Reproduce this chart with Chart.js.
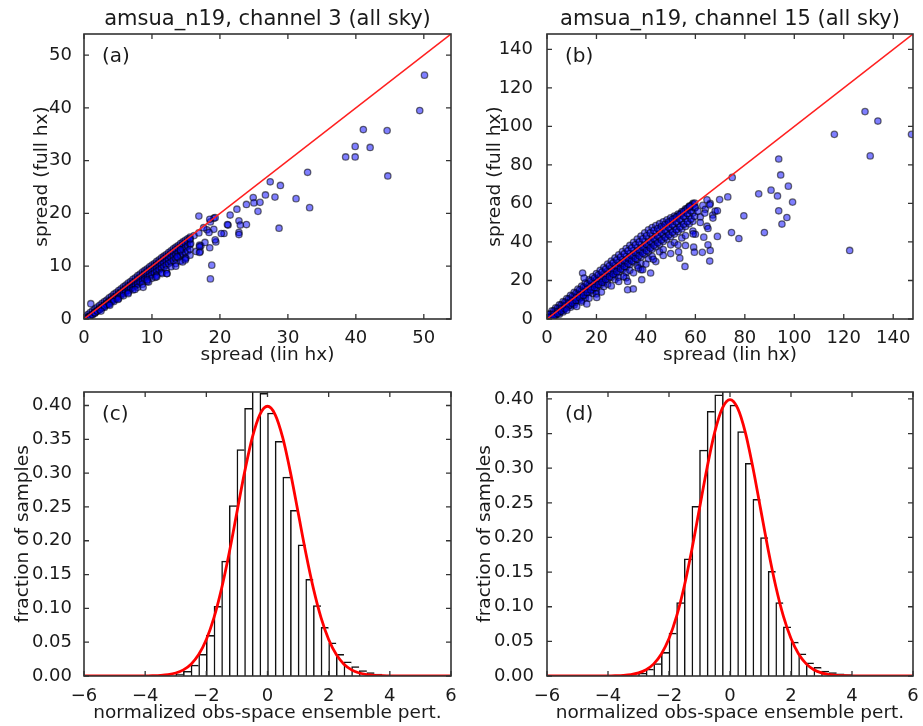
<!DOCTYPE html>
<html>
<head>
<meta charset="utf-8">
<script src="https://cdn.jsdelivr.net/npm/chart.js@4.4.1/dist/chart.umd.min.js"></script>
<style>
  body { margin: 0; background: #fff; width: 923px; height: 726px; position: relative; overflow: hidden; }
  canvas { position: absolute; }
</style>
</head>
<body>
<canvas id="chartA" width="460" height="372" style="left:0;top:0"></canvas>
<canvas id="chartB" width="463" height="372" style="left:460px;top:0"></canvas>
<canvas id="chartC" width="460" height="361" style="left:0;top:365px"></canvas>
<canvas id="chartD" width="463" height="361" style="left:460px;top:365px"></canvas>
<script>
// ---- data ----
const ticksA = [0, 10, 20, 30, 40, 50];
const ticksB = [0, 20, 40, 60, 80, 100, 120, 140];
const ticksHistX = [-6, -4, -2, 0, 2, 4, 6];
const ticksHistY = [0, 0.05, 0.1, 0.15, 0.2, 0.25, 0.3, 0.35, 0.4];

// 1:1 reference line ends
const diagA = [0, 54];
const diagB = [0, 148];

// channel 3: dense band near the 1:1 line (x = spread lin hx, rows = spread full hx)
const bandAx = [0.2, 0.55, 0.9, 1.25, 1.6, 1.95, 2.3, 2.65, 3.0, 3.35, 3.7, 4.05, 4.4, 4.75, 5.1, 5.45,
  5.8, 6.15, 6.5, 6.85, 7.2, 7.55, 7.9, 8.25, 8.6, 8.95, 9.3, 9.65, 10.0, 10.35, 10.7, 11.05, 11.4,
  11.75, 12.1, 12.45, 12.8, 13.15, 13.5, 13.85, 14.2, 14.55, 14.9, 15.25, 15.6];
const bandA1 = [0.5, 0.85, 1.2, 1.55, 1.9, 2.25, 2.6, 2.95, 3.3, 3.6, 4.0, 4.3, 4.7, 5.0, 5.4, 5.7, 6.1,
  6.4, 6.8, 7.1, 7.5, 7.8, 8.2, 8.5, 8.9, 9.2, 9.5, 9.9, 10.2, 10.5, 10.9, 11.2, 11.6, 11.9, 12.2,
  12.6, 12.9, 13.3, 13.6, 13.9, 14.3, 14.6, 14.9, 15.2, 15.5];
const bandA2 = [0.1, 0.3, 0.6, 0.9, 1.3, 1.6, 2.0, 2.3, 2.7, 3.0, 3.4, 3.7, 4.1, 4.4, 4.8, 5.1, 5.5,
  5.8, 6.2, 6.5, 6.9, 7.2, 7.6, 7.9, 8.3, 8.6, 9.0, 9.3, 9.6, 10.0, 10.3, 10.7, 11.0, 11.4, 11.7,
  12.0, 12.4, 12.7, 13.1, 13.4, 13.7, 14.1, 14.4, 14.7, 15.0];
const bandA3 = [null, 0.2, 0.5, 0.8, 1.1, 1.5, 1.8, 2.2, 2.5, 2.8, 3.2, 3.5, 3.8, 4.1, 4.5, 4.8, 5.1,
  5.4, 5.8, 6.1, 6.4, 6.7, 7.1, 7.4, 7.7, 8.0, 8.4, 8.7, 9.0, 9.3, 9.6, 9.9, 10.3, 10.6, 10.9, 11.2,
  11.6, 11.9, 12.2, 12.5, 12.8, 13.2, 13.5, 13.8, 14.1];
const bandA4 = [null, null, null, null, 1.2, 1.5, 1.8, 2.1, 2.4, 2.7, 3.0, 3.3, 3.6, 3.9, 4.2, 4.5,
  4.8, 5.1, 5.4, 5.7, 6.0, 6.3, 6.6, 6.9, 7.2, 7.5, 7.8, 8.1, 8.4, 8.7, 9.0, 9.3, 9.6, 9.9, 10.2,
  10.5, 10.8, 11.1, 11.4, 11.7, 12.0, 12.3, 12.6, 12.9, 13.2];
const bandA5 = [null, null, null, null, null, null, null, null, 2.2, null, 2.8, null, 3.3, null, 3.9,
  null, 4.4, null, 5.0, null, 5.5, null, 6.0, null, 6.6, null, 7.1, null, 7.7, null, 8.3, null, 8.8,
  null, 9.3, null, 9.9, null, 10.5, null, 11.0, null, 11.6, null, 12.1];

// channel 3: scattered points away from the band
const scatterA = [
  [2.5,1.5],[3.8,2.6],[5.0,3.7],[6.5,4.8],[7.5,5.6],[8.7,6.0],[9.5,7.0],[10.5,7.9],[11.5,8.6],[12.2,8.6],
  [13.5,10.0],[14.5,10.8],[15.0,11.5],[16.5,12.8],[17.2,13.9],[17.8,14.5],[10.7,8.0],[9.3,7.4],
  [14.9,11.2],[14.2,13.1],[13.7,11.8],[15.7,14.3],[17.1,12.8],[17.0,14.0],[18.1,16.9],[18.6,18.4],
  [19.1,19.1],[19.4,14.6],[20.6,16.2],[21.2,17.8],[1.0,2.9],[16.2,15.8],[16.9,16.3],[15.6,15.2],
  [50.1,46.2],[49.4,39.5],[41.1,35.9],[44.6,35.7],[39.9,32.7],[42.1,32.5],[38.5,30.7],[39.9,30.7],
  [44.7,27.1],[32.9,27.8],[27.4,26.0],[28.9,25.3],[26.7,23.5],[28.1,23.1],[31.2,22.8],[24.9,23.0],
  [23.9,21.7],[25.0,22.0],[25.9,22.1],[25.6,20.4],[33.2,21.1],[28.7,17.2],[22.5,20.8],[21.5,19.7],
  [21.1,17.9],[22.8,18.6],[23.0,17.8],[23.9,17.9],[22.8,16.4],[22.8,16.0],[20.2,16.2],[16.9,19.5],
  [18.5,18.9],[19.3,19.2],[19.1,17.0],[18.4,16.4],[17.6,17.3],[19.3,15.0],[18.5,13.5],[17.0,13.7],
  [17.0,12.6],[18.8,10.2],[18.6,7.6],[12.2,8.6]
];

// channel 15: dense band near the 1:1 line
const bandBx = [0.5, 2, 3.5, 5, 6.5, 8, 9.5, 11, 12.5, 14, 15.5, 17, 18.5, 20, 21.5, 23, 24.5, 26, 27.5,
  29, 30.5, 32, 33.5, 35, 36.5, 38, 39.5, 41, 42.5, 44, 45.5, 47, 48.5, 50, 51.5, 53, 54.5, 56, 57.5, 59];
const bandB1 = [2.5, 4.2, 5.8, 7.4, 9.0, 10.6, 12.3, 13.9, 15.5, 17.1, 18.8, 20.4, 22.0, 23.6, 25.2,
  26.8, 28.5, 30.1, 31.7, 33.3, 35.0, 36.6, 38.2, 39.8, 41.5, 43.1, 44.7, 46.3, 47.5, 48.5, 49.5,
  50.5, 51.5, 52.5, 53.5, 54.5, 55.8, 57.2, 58.6, 60.0];
const bandB2 = [1.0, 2.5, 4.0, 5.5, 7.0, 8.5, 10.0, 11.5, 13.0, 14.5, 16.0, 17.5, 19.0, 20.5, 22.0,
  23.5, 25.0, 26.5, 28.0, 29.5, 31.0, 32.5, 34.0, 35.5, 37.0, 38.5, 40.0, 41.5, 43.0, 44.5, 46.0,
  47.5, 49.0, 50.5, 52.0, 53.5, 55.0, 56.5, 58.0, 59.5];
const bandB3 = [null, 0.9, 2.3, 3.8, 5.2, 6.6, 8.0, 9.5, 10.9, 12.3, 13.7, 15.2, 16.6, 18.0, 19.4,
  20.9, 22.3, 23.7, 25.1, 26.6, 28.0, 29.4, 30.8, 32.3, 33.7, 35.1, 36.5, 38.0, 39.4, 40.8, 42.2,
  43.7, 45.1, 46.5, 47.9, 49.4, 50.8, 52.2, 53.6, 55.1];
const bandB4 = [null, null, 1.9, 3.2, 4.5, 5.8, 7.2, 8.5, 9.8, 11.1, 12.4, 13.8, 15.1, 16.4, 17.7,
  19.0, 20.4, 21.7, 23.0, 24.3, 25.6, 27.0, 28.3, 29.6, 30.9, 32.2, 33.6, 34.9, 36.2, 37.5, 38.8,
  40.2, 41.5, 42.8, 44.1, 45.4, 46.8, 48.1, 49.4, 50.7];
const bandB5 = [null, null, null, 2.5, 3.7, null, 6.1, 7.3, null, 9.7, 10.9, null, 13.3, 14.5, null,
  16.9, 18.1, null, 20.5, 21.7, null, 24.1, 25.3, null, 27.7, 28.9, null, 31.3, 32.5, null, 34.9,
  36.1, null, 38.5, 39.7, null, 42.1, 43.3, null, 45.7];

// channel 15: in-between rows, offset in x
const bandBx2 = [1.25, 2.75, 4.25, 5.75, 7.25, 8.75, 10.25, 11.75, 13.25, 14.75, 16.25, 17.75, 19.25,
  20.75, 22.25, 23.75, 25.25, 26.75, 28.25, 29.75, 31.25, 32.75, 34.25, 35.75, 37.25, 38.75, 40.25,
  41.75, 43.25, 44.75, 46.25, 47.75, 49.25, 50.75, 52.25, 53.75, 55.25, 56.75, 58.25, 59.75];
const bandB6 = [2.6, 4.2, 5.7, 7.3, 8.8, 10.4, 11.9, 13.5, 15.1, 16.6, 18.2, 19.8, 21.3, 22.9, 24.4,
  26.0, 27.6, 29.1, 30.7, 32.2, 33.8, 35.4, 36.9, 38.5, 40.0, 41.6, 43.2, 44.7, 46.0, 47.0, 48.0,
  49.2, 50.5, 51.8, 53.0, 54.3, 55.8, 57.4, 58.9, 60.2];
const bandB7 = [0.9, 2.4, 3.8, 5.3, 6.7, 8.2, 9.6, 11.1, 12.5, 14.0, 15.5, 16.9, 18.4, 19.8, 21.3,
  22.7, 24.2, 25.6, 27.1, 28.6, 30.0, 31.5, 32.9, 34.4, 35.8, 37.3, 38.7, 40.2, 41.7, 43.1, 44.6,
  46.0, 47.5, 48.9, 50.4, 51.8, 53.3, 54.8, 56.2, 57.7];
const bandB8 = [null, 1.4, 2.8, 4.1, 5.5, 6.9, 8.2, 9.6, 11.0, 12.3, 13.7, 15.1, 16.4, 17.8, 19.1,
  20.5, 21.9, 23.2, 24.6, 26.0, 27.3, 28.7, 30.1, 31.4, 32.8, 34.2, 35.5, 36.9, 38.3, 39.6, 41.0,
  42.4, 43.7, 45.1, 46.4, 47.8, 49.2, 50.5, 51.9, 53.3];

// channel 15: scattered points away from the band
const scatterB = [
  [8,4.6],[14,8.8],[20,13.0],[26,17.2],[32,21.4],[38,25.6],[44,29.8],[50,34.0],[56,38.2],
  [12,6.5],[17,10.8],[22,14],[29,19.5],[31,22],[35,24],[37,26.5],[40,28.5],[43,31],[47,33],
  [53,38.5],[60,44],[60,58],[61,56],[62,53],[63,59],[64,57],[66,60],[67,54],[68,56],
  [128.6,107.7],[133.8,102.8],[116.2,95.9],[147.4,95.9],[130.7,84.7],[122.4,35.6],[93.7,83.1],
  [94.5,74.8],[97.6,69.0],[90.6,66.9],[85.6,65.0],[93.2,63.9],[99.3,60.7],[93.7,56.2],[97.0,52.7],
  [95.0,49.3],[79.6,53.6],[87.9,44.9],[77.6,41.8],[74.6,44.9],[74.9,73.5],[73.1,63.4],[69.8,62.0],
  [68.9,56.2],[68.9,42.9],[67.1,52.4],[66.0,35.6],[65.8,30.1],[64.7,61.9],[63.8,55.0],[64.7,48.2],
  [65.1,47.0],[63.4,42.5],[65.1,38.5],[62.8,34.6],[59.3,37.3],[59.6,34.7],[53.2,34.9],[53.7,31.6],
  [55.8,27.3],[59.1,44.2],[62.0,50.1],[57.7,58.4],[65.8,59.3],
  [41.9,23.9],[38.3,20.4],[32.6,19.5],[32.6,15.2],[34.9,15.6],[38.7,25.6],[14.4,23.9],[15.0,21.3],
  [20.1,11.2],[16.1,7.8]
];

// histogram bins (width 0.25) and fraction of samples
const binCenters = [-3.375, -3.125, -2.875, -2.625, -2.375, -2.125, -1.875, -1.625, -1.375, -1.125,
  -0.875, -0.625, -0.375, -0.125, 0.125, 0.375, 0.625, 0.875, 1.125, 1.375, 1.625, 1.875, 2.125,
  2.375, 2.625, 2.875, 3.125, 3.375, 3.625, 3.875, 4.125, 4.375];
const histC = [0.0005, 0.001, 0.003, 0.007, 0.016, 0.032, 0.060, 0.103, 0.170, 0.252,
  0.335, 0.396, 0.440, 0.418, 0.389, 0.347, 0.294, 0.245, 0.194, 0.143, 0.104, 0.072, 0.049,
  0.032, 0.021, 0.014, 0.008, 0.005, 0.003, 0.0015, 0.0008, 0.0004];
const histD = [0.0005, 0.0015, 0.004, 0.010, 0.018, 0.034, 0.062, 0.106, 0.169, 0.245,
  0.326, 0.382, 0.406, 0.418, 0.391, 0.353, 0.307, 0.255, 0.200, 0.151, 0.106, 0.071, 0.049,
  0.032, 0.019, 0.0125, 0.007, 0.005, 0.003, 0.002, 0.001, 0.0005];

// red reference curve
const curveX = [-6, -5, -4, -3.75, -3.5, -3.25, -3, -2.75, -2.5, -2.25, -2, -1.75, -1.5, -1.25, -1,
  -0.75, -0.5, -0.25, 0, 0.25, 0.5, 0.75, 1, 1.25, 1.5, 1.75, 2, 2.25, 2.5, 2.75, 3, 3.25, 3.5,
  3.75, 4, 5, 6];
const curveY = [0, 0, 0.0001, 0.0004, 0.0009, 0.002, 0.0044, 0.0091, 0.0175, 0.0317, 0.054, 0.0863,
  0.1295, 0.1826, 0.242, 0.3011, 0.3521, 0.3867, 0.3989, 0.3867, 0.3521, 0.3011, 0.242, 0.1826,
  0.1295, 0.0863, 0.054, 0.0317, 0.0175, 0.0091, 0.0044, 0.002, 0.0009, 0.0004, 0.0001, 0, 0];

// ---- drawing ----
Chart.defaults.font.family = "'DejaVu Sans', sans-serif";
Chart.defaults.color = "#1a1a1a";
Chart.defaults.animation = false;

const ink = "#1a1a1a";
const minus = (v) => String(v).replace("-", "\u2212");

function rowPoints(xs, rows) {
  const pts = [];
  rows.forEach((row) => row.forEach((y, i) => { if (y !== null) pts.push({ x: xs[i], y }); }));
  return pts;
}

// box, inward ticks on all four sides, panel letter
const framePlugin = {
  id: "frame",
  afterDatasetsDraw(chart, args, opts) {
    const { ctx, chartArea: a, scales: { x, y } } = chart;
    ctx.save();
    ctx.strokeStyle = "#333";
    ctx.lineWidth = 1.3;
    ctx.beginPath();
    x.ticks.forEach((t) => {
      const px = x.getPixelForValue(t.value);
      ctx.moveTo(px, a.bottom); ctx.lineTo(px, a.bottom - 5);
      ctx.moveTo(px, a.top); ctx.lineTo(px, a.top + 5);
    });
    y.ticks.forEach((t) => {
      const py = y.getPixelForValue(t.value);
      ctx.moveTo(a.left, py); ctx.lineTo(a.left + 5, py);
      ctx.moveTo(a.right, py); ctx.lineTo(a.right - 5, py);
    });
    ctx.stroke();
    ctx.lineWidth = 1.6;
    ctx.strokeRect(a.left, a.top, a.width, a.height);
    ctx.font = "20px 'DejaVu Sans'";
    ctx.fillStyle = ink;
    ctx.textBaseline = "middle";
    ctx.fillText(opts.text, a.left + 18, a.top + 23);
    ctx.restore();
  },
};

function axis(min, max, ticks, fmt, title, size, titlePad, tickPad) {
  return {
    type: "linear",
    min, max,
    offset: false,
    grid: { display: false },
    border: { display: false },
    afterBuildTicks: (s) => { s.ticks = ticks.map((v) => ({ value: v })); },
    afterFit: (s) => {
      if (s.isHorizontal()) s.height = size; else s.width = size;
    },
    ticks: { callback: fmt, font: { size: 18 }, color: ink, padding: tickPad, maxRotation: 0, autoSkip: false },
    title: { display: true, text: title, font: { size: 18.5 }, color: ink, padding: titlePad },
  };
}

function scatterChart(id, points, diag, ticks, max, header, letter, yWidth, yTitlePad, yTickPad, right) {
  new Chart(document.getElementById(id), {
    type: "scatter",
    data: {
      datasets: [
        {
          type: "line",
          data: diag.map((v) => ({ x: v, y: v })),
          borderColor: "#ff2020",
          borderWidth: 1.5,
          pointRadius: 0,
          order: 0,
          clip: 0,
        },
        {
          data: points,
          backgroundColor: "rgba(0,0,255,0.5)",
          borderColor: "rgba(0,0,0,0.55)",
          borderWidth: 1.3,
          pointRadius: 3.2,
          order: 1,
          clip: 0,
        },
      ],
    },
    options: {
      responsive: false,
      layout: { padding: { left: 0, right, top: 0, bottom: 0 } },
      plugins: {
        legend: { display: false },
        tooltip: { enabled: false },
        title: {
          display: true, text: header, fullSize: false, color: ink,
          font: { size: 21, weight: "normal" }, padding: { top: 7, bottom: 1.8 },
        },
        frame: { text: letter },
      },
      scales: {
        x: axis(0, max, ticks, (v) => v, "spread (lin hx)", 53, { top: 0, bottom: 5.9 }, 1),
        y: axis(0, max, ticks, (v) => v, "spread (full hx)", yWidth, { top: yTitlePad, bottom: 0 }, yTickPad),
      },
    },
    plugins: [framePlugin],
  });
}

function histChart(id, hist, ymax, letter, yWidth, yTitlePad, yTickPad, right) {
  new Chart(document.getElementById(id), {
    type: "bar",
    data: {
      datasets: [
        {
          type: "line",
          data: curveX.map((x, i) => ({ x, y: curveY[i] })),
          borderColor: "#ff0000",
          borderWidth: 2.8,
          pointRadius: 0,
          cubicInterpolationMode: "monotone",
          order: 0,
          clip: 0,
        },
        {
          data: binCenters.map((x, i) => ({ x, y: hist[i] })),
          backgroundColor: "#ffffff",
          borderColor: "#111",
          borderWidth: { left: 1.5, top: 1.5, right: 0, bottom: 0 },
          borderSkipped: false,
          barPercentage: 1,
          categoryPercentage: 1,
          order: 1,
          clip: 0,
        },
      ],
    },
    options: {
      responsive: false,
      layout: { padding: { left: 0, right, top: 27, bottom: 0 } },
      plugins: {
        legend: { display: false },
        tooltip: { enabled: false },
        frame: { text: letter },
      },
      scales: {
        x: axis(-6, 6, ticksHistX, (v) => minus(v), "normalized obs-space ensemble pert.", 50,
          { top: 0, bottom: 1.9 }, 2),
        y: axis(0, ymax, ticksHistY, (v) => v.toFixed(2), "fraction of samples", yWidth,
          { top: yTitlePad, bottom: 0 }, yTickPad),
      },
    },
    plugins: [framePlugin],
  });
}

const pointsA = rowPoints(bandAx, [bandA1, bandA2, bandA3, bandA4, bandA5])
  .concat(scatterA.map(([x, y]) => ({ x, y })));
const pointsB = rowPoints(bandBx, [bandB1, bandB2, bandB3, bandB4, bandB5])
  .concat(rowPoints(bandBx2, [bandB6, bandB7, bandB8]))
  .concat(scatterB.map(([x, y]) => ({ x, y })));

scatterChart("chartA", pointsA, diagA, ticksA, 54, "amsua_n19, channel 3 (all sky)", "(a)", 84, 31.4, 4, 9);
scatterChart("chartB", pointsB, diagB, ticksB, 148, "amsua_n19, channel 15 (all sky)", "(b)", 87, 23.9, 6, 10);
histChart("chartC", histC, 0.42, "(c)", 84, 12.4, 4, 9);
histChart("chartD", histD, 0.41, "(d)", 87, 13.9, 5, 10);
</script>
</body>
</html>
